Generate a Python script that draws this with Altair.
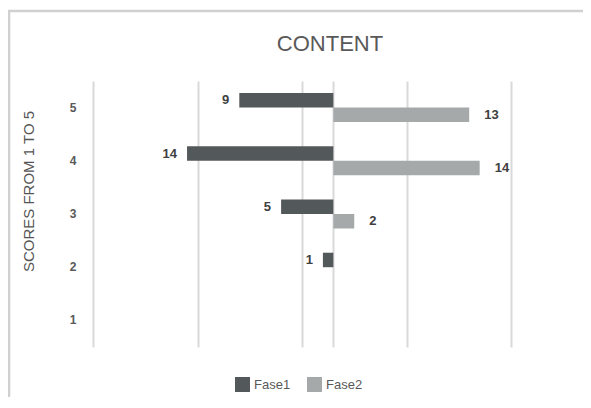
import altair as alt
import pandas as pd

FONT = "Liberation Sans"

scores = ["5", "4", "3", "2", "1"]
fase1 = [9, 14, 5, 1, 0]
fase2 = [13, 14, 2, 0, 0]
series = ["Fase1", "Fase2"]
colors = ["#53585a", "#a5a9aa"]
grid_values = [-23, -13, -3, 0, 7, 17]
chart_title = "CONTENT"
y_title = "SCORES FROM 1 TO 5"

rows = []
for s, a, b in zip(scores, fase1, fase2):
    rows.append({"score": s, "serie": "Fase1", "value": a})
    rows.append({"score": s, "serie": "Fase2", "value": b})
df = pd.DataFrame(rows)

base = alt.Chart(df).transform_filter("datum.value > 0").transform_calculate(
    signed="datum.serie == 'Fase1' ? -datum.value : datum.value"
)

xs = alt.Scale(domain=[-23, 17], nice=False, zero=False)
ys = alt.Scale(domain=scores, paddingInner=0.455, paddingOuter=0.227)
yo = alt.YOffset("serie:N", scale=alt.Scale(domain=series))

bars = base.mark_bar().encode(
    x=alt.X("signed:Q", scale=xs,
            axis=alt.Axis(values=grid_values, grid=True, labels=False, ticks=False,
                          domain=False, title=None, gridColor="#d9d9d9", gridWidth=2)),
    y=alt.Y("score:N", scale=ys,
            axis=alt.Axis(title=y_title, ticks=False, domain=False,
                          labelPadding=17, labelFont=FONT, labelFontSize=12,
                          labelFontWeight="bold", labelColor="#595959",
                          titleFont=FONT, titleFontSize=15, titleFontWeight="normal",
                          titleColor="#555555", titleX=-65, titleY=110,
                          titleAngle=270, titleAlign="center", titleBaseline="middle")),
    yOffset=yo,
    color=alt.Color("serie:N", scale=alt.Scale(domain=series, range=colors),
                    legend=alt.Legend(title=None, orient="none", legendX=142, legendY=296,
                                      direction="horizontal", symbolType="square",
                                      symbolSize=225, symbolStrokeWidth=0,
                                      labelFont=FONT, labelFontSize=13,
                                      labelColor="#595959", columnPadding=16,
                                      labelOffset=4)),
)

t1 = base.transform_filter("datum.serie == 'Fase1'").mark_text(
    align="right", baseline="middle", dx=-10, font=FONT, fontSize=13,
    fontWeight="bold", color="#404040"
).encode(x=alt.X("signed:Q", scale=xs), y=alt.Y("score:N", scale=ys), yOffset=yo,
         text="value:Q")

t2 = base.transform_filter("datum.serie == 'Fase2'").mark_text(
    align="left", baseline="middle", dx=15, font=FONT, fontSize=13,
    fontWeight="bold", color="#404040"
).encode(x=alt.X("signed:Q", scale=xs), y=alt.Y("score:N", scale=ys), yOffset=yo,
         text="value:Q")

frame = alt.Chart(pd.DataFrame({"f": [0]})).mark_rect(
    fillOpacity=0, stroke="#d0d0d0", strokeWidth=2.5
).encode(x=alt.value(-84), x2=alt.value(520), y=alt.value(-70), y2=alt.value(420))

title = alt.Chart(pd.DataFrame({"t": [chart_title]})).mark_text(
    font=FONT, fontSize=22, color="#595959", align="center", baseline="middle"
).encode(text="t:N", x=alt.value(237), y=alt.value(-37))

chart = alt.layer(frame, bars, t1, t2, title).properties(
    width=418, height=266,
    padding={"left": 85, "top": 73, "right": 72, "bottom": 50},
    autosize=alt.AutoSizeParams(type="none"),
).configure_view(stroke=None)

chart.save("out.html", embed_options={"renderer": "svg", "actions": False})
